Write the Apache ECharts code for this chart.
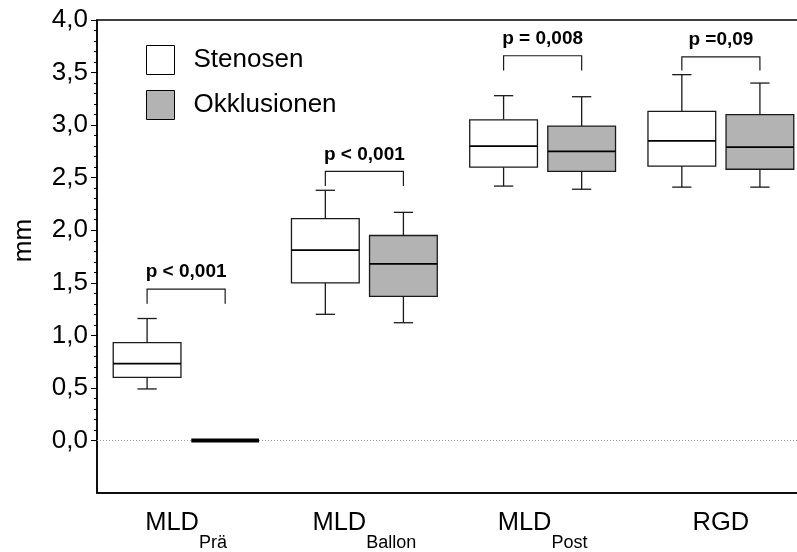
<!DOCTYPE html>
<html>
<head>
<meta charset="utf-8">
<script src="https://cdn.jsdelivr.net/npm/echarts@6/dist/echarts.min.js"></script>
<style>
  html, body { margin: 0; padding: 0; background: #fff; }
  #chart { width: 797px; height: 552px; }
</style>
</head>
<body>
<div id="chart"></div>
<script>
// Category names (main part + subscript)
const catMain = ['MLD', 'MLD', 'MLD', 'RGD'];
const catSub = ['Prä', 'Ballon', 'Post', ''];

// Box statistics per category: [min, Q1, median, Q3, max] in mm
const stenosen = [
  [0.49, 0.60, 0.73, 0.93, 1.16],
  [1.20, 1.50, 1.81, 2.11, 2.38],
  [2.42, 2.60, 2.80, 3.05, 3.28],
  [2.41, 2.61, 2.85, 3.13, 3.48]
];
const okklusionen = [
  [0.00, 0.00, 0.00, 0.00, 0.00],
  [1.12, 1.37, 1.68, 1.95, 2.17],
  [2.39, 2.56, 2.75, 2.99, 3.27],
  [2.41, 2.58, 2.79, 3.10, 3.40]
];

// Significance brackets
const pLabels = ['p < 0,001', 'p < 0,001', 'p = 0,008', 'p =0,09'];
const bracketTop = [1.44, 2.56, 3.66, 3.65];
const bracketEnd = [1.30, 2.42, 3.52, 3.52];

// Y axis range (mm)
const yMin = -0.5, yMax = 4.0, yStep = 0.5;

const FONT = '"Liberation Sans", Arial, Helvetica, sans-serif';
const INK = '#1a1a1a';
const BOX_OFFSET = 0.219;   // fraction of band width from category centre
const BOX_HALF = 0.19;      // half box width as fraction of band
const CAP_HALF = 0.054;     // half whisker-cap width as fraction of band

function boxRenderer(side) {
  return function (params, api) {
    const c = api.value(0);
    const band = api.size([1, 0])[0];
    const cx = api.coord([c, 0])[0] + side * band * BOX_OFFSET;
    const hw = band * BOX_HALF;
    const cw = band * CAP_HALF;
    const y = (i) => api.coord([c, api.value(i)])[1];
    const lo = y(1), q1 = y(2), med = y(3), q3 = y(4), hi = y(5);
    const fill = api.visual('color');
    const st = { stroke: INK, lineWidth: 1.3, fill: null };
    if (Math.abs(q1 - q3) < 0.5 && Math.abs(lo - hi) < 0.5) {
      // collapsed distribution: every value identical -> heavy bar
      return {
        type: 'group',
        children: [{
          type: 'rect', z2: 10,
          shape: { x: cx - hw, y: med - 2, width: 2 * hw, height: 4 },
          style: { fill: '#000', stroke: null }
        }]
      };
    }
    return {
      type: 'group',
      children: [
        { type: 'line', shape: { x1: cx, y1: hi, x2: cx, y2: q3 }, style: st },
        { type: 'line', shape: { x1: cx - cw, y1: hi, x2: cx + cw, y2: hi }, style: st },
        { type: 'line', shape: { x1: cx, y1: q1, x2: cx, y2: lo }, style: st },
        { type: 'line', shape: { x1: cx - cw, y1: lo, x2: cx + cw, y2: lo }, style: st },
        { type: 'rect', shape: { x: cx - hw, y: q3, width: 2 * hw, height: q1 - q3 },
          style: { fill: fill, stroke: INK, lineWidth: 1.3 } },
        { type: 'line', shape: { x1: cx - hw, y1: med, x2: cx + hw, y2: med },
          style: { stroke: '#000', lineWidth: 1.7 } }
      ]
    };
  };
}

function bracketRenderer(params, api) {
  const c = api.value(0);
  const band = api.size([1, 0])[0];
  const cx = api.coord([c, 0])[0];
  const off = band * BOX_OFFSET;
  const yt = api.coord([c, api.value(1)])[1];
  const ye = api.coord([c, api.value(2)])[1];
  return {
    type: 'group',
    children: [
      { type: 'polyline',
        shape: { points: [[cx - off, ye], [cx - off, yt], [cx + off, yt], [cx + off, ye]] },
        style: { stroke: INK, lineWidth: 1.2, fill: null } },
      { type: 'text', x: cx, y: yt - 17,
        style: { text: pLabels[params.dataIndex], fontFamily: FONT, fontWeight: 'bold',
                 fontSize: 19, fill: '#000', align: 'center', verticalAlign: 'middle' } }
    ]
  };
}

const toRows = (arr) => arr.map((v, i) => [i].concat(v));

const chart = echarts.init(document.getElementById('chart'), null, { renderer: 'canvas' });

chart.setOption({
  animation: false,
  backgroundColor: '#fff',
  textStyle: { fontFamily: FONT, color: '#000' },
  grid: [
    { left: 97, top: 20, right: -13, bottom: 59, show: true, outerBoundsMode: 'none',
      containLabel: false,
      borderColor: '#000', borderWidth: 1.5, backgroundColor: 'transparent' },
    { left: 97, top: 20, right: -13, bottom: 552 - 440.5, show: false,
      outerBoundsMode: 'none', containLabel: false }
  ],
  legend: {
    orient: 'vertical', left: 146, top: 45, padding: 0,
    icon: 'rect', itemWidth: 28, itemHeight: 29, itemGap: 15,
    data: ['Stenosen', 'Okklusionen'],
    itemStyle: { borderColor: '#000', borderWidth: 1 },
    formatter: (n) => '{t|' + n + '}',
    textStyle: {
      rich: { t: { fontSize: 26, fontFamily: FONT, color: '#000', padding: [0, 0, 0, 14] } }
    },
    selectedMode: false
  },
  xAxis: [
    {
      type: 'category', gridIndex: 0, data: catMain.map((m, i) => m + '|' + catSub[i]),
      axisLine: { onZero: false, lineStyle: { color: '#000', width: 1.5 } },
      axisTick: { alignWithLabel: true, length: 4, lineStyle: { color: '#000' } },
      axisLabel: {
        margin: 31,
        formatter: (v) => {
          const [m, s] = v.split('|');
          return s ? '{m|' + m + '}{s|' + s + '}' : '{m|' + m + '}';
        },
        rich: {
          m: { fontSize: 25.5, fontFamily: FONT, color: '#000', lineHeight: 28,
               padding: [0, 0, 16, 0], verticalAlign: 'bottom' },
          s: { fontSize: 18, fontFamily: FONT, color: '#000', lineHeight: 28,
               verticalAlign: 'bottom' }
        }
      },
      splitLine: { show: false }
    },
    { type: 'category', gridIndex: 1, data: catMain, show: false }
  ],
  yAxis: [
    {
      type: 'value', gridIndex: 0, min: yMin, max: yMax, interval: yStep,
      name: 'mm', nameLocation: 'middle', nameGap: 60, nameRotate: 90,
      nameTextStyle: { fontSize: 26, fontFamily: FONT, color: '#000', padding: [0, 0, 0, 32] },
      axisLine: { show: true, lineStyle: { color: '#000', width: 1.5 } },
      axisTick: { show: false }, axisLabel: { show: false },
      splitLine: { show: false }
    },
    {
      type: 'value', gridIndex: 1, min: 0, max: yMax, interval: yStep,
      axisLine: { show: false },
      axisTick: { show: true, length: 6, lineStyle: { color: '#000', width: 1 } },
      minorTick: { show: true, splitNumber: 5, length: 3, lineStyle: { color: '#000', width: 1 } },
      axisLabel: {
        margin: 9, fontSize: 26, fontFamily: FONT, color: '#000',
        formatter: (v) => v.toFixed(1).replace('.', ',')
      },
      splitLine: { show: false }
    }
  ],
  series: [
    {
      name: 'Stenosen', type: 'custom', xAxisIndex: 0, yAxisIndex: 0,
      itemStyle: { color: '#ffffff' },
      renderItem: boxRenderer(-1),
      encode: { x: 0, y: [1, 2, 3, 4, 5] },
      data: toRows(stenosen),
      markLine: {
        silent: true, z: 1, symbol: ['none', 'none'], label: { show: false },
        lineStyle: { type: [1, 2], color: '#999', width: 1 },
        data: [{ yAxis: 0 }]
      },
      z: 3
    },
    {
      name: 'Okklusionen', type: 'custom', xAxisIndex: 0, yAxisIndex: 0,
      itemStyle: { color: '#b3b3b3' },
      renderItem: boxRenderer(1),
      encode: { x: 0, y: [1, 2, 3, 4, 5] },
      data: toRows(okklusionen),
      z: 4
    },
    {
      name: 'p', type: 'custom', xAxisIndex: 0, yAxisIndex: 0,
      renderItem: bracketRenderer,
      encode: { x: 0, y: [1, 2] },
      data: bracketTop.map((t, i) => [i, t, bracketEnd[i]]),
      silent: true, z: 5
    }
  ]
});
</script>
</body>
</html>
